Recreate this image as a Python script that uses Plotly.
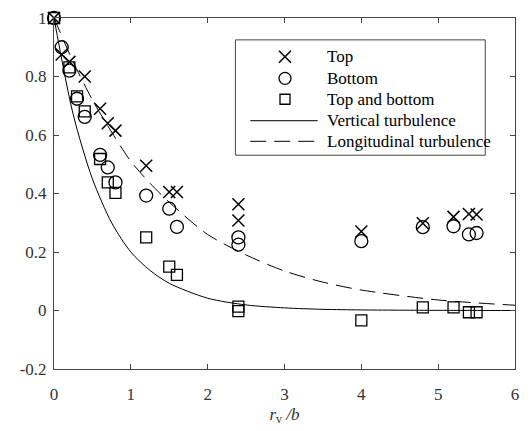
import plotly.graph_objects as go

# Normalised separation r_v/b and correlation values for each measurement set
top_x = [0, 0.1, 0.2, 0.4, 0.6, 0.7, 0.8, 1.2, 1.5, 1.6, 2.4, 2.4, 4.0, 4.8, 5.2, 5.4, 5.5]
top_y = [1.0, 0.875, 0.85, 0.80, 0.69, 0.64, 0.615, 0.495, 0.405, 0.405, 0.363, 0.308, 0.27, 0.298, 0.32, 0.33, 0.328]

bottom_x = [0, 0.1, 0.2, 0.3, 0.4, 0.6, 0.7, 0.8, 1.2, 1.5, 1.6, 2.4, 2.4, 4.0, 4.8, 5.2, 5.4, 5.5]
bottom_y = [1.0, 0.90, 0.82, 0.724, 0.662, 0.532, 0.489, 0.438, 0.393, 0.348, 0.286, 0.25, 0.225, 0.237, 0.285, 0.288, 0.26, 0.265]

both_x = [0, 0.2, 0.3, 0.4, 0.6, 0.7, 0.8, 1.2, 1.5, 1.6, 2.4, 2.4, 4.0, 4.8, 5.2, 5.4, 5.5]
both_y = [1.0, 0.831, 0.732, 0.681, 0.518, 0.438, 0.402, 0.25, 0.15, 0.122, 0.013, -0.002, -0.034, 0.011, 0.011, -0.006, -0.006]

# Model correlation curves
curve_x = [0, 0.25, 0.5, 0.75, 1.0, 1.25, 1.5, 2.0, 2.5, 3.0, 3.5, 4.0, 5.0, 6.0]
vertical_y = [1.0, 0.67, 0.45, 0.30, 0.20, 0.137, 0.093, 0.042, 0.019, 0.009, 0.004, 0.002, 0.0005, 0.0]
longitudinal_y = [1.0, 0.85, 0.72, 0.61, 0.51, 0.435, 0.37, 0.26, 0.19, 0.135, 0.097, 0.07, 0.036, 0.018]

x_ticks = [0, 1, 2, 3, 4, 5, 6]
y_ticks = [-0.2, 0, 0.2, 0.4, 0.6, 0.8, 1]
y_tick_text = ["-0.2", "0", "0.2", "0.4", "0.6", "0.8", "1"]

legend_labels = ["Top", "Bottom", "Top and bottom", "Vertical turbulence", "Longitudinal turbulence"]

FONT = "Liberation Serif, Times New Roman, serif"
DASH = "16px,8px"

W, H = 528, 431
M = dict(l=54, r=9, t=16, b=62)
PW = W - M["l"] - M["r"]
PH = H - M["t"] - M["b"]


def px_x(p):
    return (p - M["l"]) / PW


def px_y(p):
    return (H - M["b"] - p) / PH


fig = go.Figure()

fig.add_trace(go.Scatter(
    x=top_x, y=top_y, mode="markers", name=legend_labels[0], cliponaxis=False,
    marker=dict(symbol="x-thin-open", size=12, color="black",
                line=dict(color="black", width=1.5)),
))
fig.add_trace(go.Scatter(
    x=bottom_x, y=bottom_y, mode="markers", name=legend_labels[1], cliponaxis=False,
    marker=dict(symbol="circle-open", size=13, color="black",
                line=dict(color="black", width=1.3)),
))
fig.add_trace(go.Scatter(
    x=both_x, y=both_y, mode="markers", name=legend_labels[2], cliponaxis=False,
    marker=dict(symbol="square-open", size=11, color="black",
                line=dict(color="black", width=1.3)),
))
fig.add_trace(go.Scatter(
    x=curve_x, y=vertical_y, mode="lines", name=legend_labels[3],
    line=dict(color="black", width=1, shape="spline", smoothing=0.8),
))
fig.add_trace(go.Scatter(
    x=curve_x, y=longitudinal_y, mode="lines", name=legend_labels[4],
    line=dict(color="black", width=1, dash=DASH, shape="spline", smoothing=0.8),
))

axis_common = dict(
    showline=True, linecolor="#444", linewidth=1, mirror="allticks",
    ticks="inside", ticklen=5, tickcolor="#444", tickwidth=1,
    showgrid=False, zeroline=False,
    tickfont=dict(family=FONT, size=17, color="#333"),
)

fig.update_xaxes(range=[0, 6], tickvals=x_ticks, ticklabelstandoff=10, **axis_common,
                 title=dict(text="<i>r</i><sub>v</sub><i> /b</i>",
                            font=dict(family=FONT, size=17, color="#333"),
                            standoff=4))
fig.update_yaxes(range=[-0.2, 1], tickvals=y_ticks, ticktext=y_tick_text,
                 ticklabelstandoff=3, **axis_common)

# Boxed key in the upper right of the plot area
shapes = [dict(type="rect", xref="paper", yref="paper",
               x0=px_x(237), x1=px_x(489), y0=px_y(154), y1=px_y(38),
               line=dict(color="#444", width=1), fillcolor="white", layer="above")]
annotations = []
row_y = [55, 76.7, 97.7, 119.3, 140]
sym_x = px_x(287)
for label, ry in zip(legend_labels, row_y):
    annotations.append(dict(text=label, xref="paper", yref="paper",
                            x=px_x(327), y=px_y(ry), xanchor="left", yanchor="middle",
                            showarrow=False, font=dict(family=FONT, size=17, color="black")))

common_sym = dict(xref="paper", yref="paper", xsizemode="pixel", ysizemode="pixel",
                  xanchor=sym_x, layer="above")
# cross
for s in (1, -1):
    shapes.append(dict(type="line", yanchor=px_y(row_y[0]),
                       x0=-6, x1=6, y0=-6 * s, y1=6 * s,
                       line=dict(color="black", width=1.5), **common_sym))
# circle
shapes.append(dict(type="circle", yanchor=px_y(row_y[1]), x0=-6, x1=6, y0=-6, y1=6,
                   line=dict(color="black", width=1.3), **common_sym))
# square
shapes.append(dict(type="rect", yanchor=px_y(row_y[2]), x0=-5, x1=5, y0=-5, y1=5,
                   line=dict(color="black", width=1.3), **common_sym))
# line samples
shapes.append(dict(type="line", xref="paper", yref="paper",
                   x0=px_x(252), x1=px_x(320), y0=px_y(row_y[3]), y1=px_y(row_y[3]),
                   line=dict(color="black", width=1), layer="above"))
shapes.append(dict(type="line", xref="paper", yref="paper",
                   x0=px_x(252), x1=px_x(320), y0=px_y(row_y[4]), y1=px_y(row_y[4]),
                   line=dict(color="black", width=1, dash=DASH), layer="above"))

fig.update_layout(
    width=W, height=H, margin=M,
    paper_bgcolor="white", plot_bgcolor="white",
    font=dict(family=FONT, size=17, color="black"),
    showlegend=False,
    shapes=shapes, annotations=annotations,
)

fig.write_html("out.html")
